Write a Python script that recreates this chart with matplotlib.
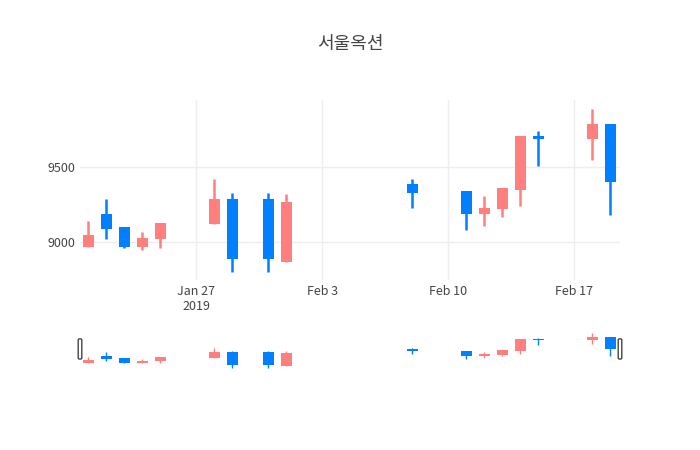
import matplotlib.pyplot as plt
import matplotlib.dates as mdates
from matplotlib.patches import FancyBboxPatch
import numpy as np
import pandas as pd

plt.rcParams['font.family'] = ['Noto Sans CJK KR', 'DejaVu Sans']

dates = pd.to_datetime([
    "2019-01-21", "2019-01-22", "2019-01-23", "2019-01-24", "2019-01-25",
    "2019-01-28", "2019-01-29", "2019-01-31", "2019-02-01", "2019-02-08",
    "2019-02-11", "2019-02-12", "2019-02-13", "2019-02-14", "2019-02-15",
    "2019-02-18", "2019-02-19",
])
opens = [8970, 9190, 9100, 8970, 9020, 9120, 9290, 9290, 8870, 9390,
         9340, 9190, 9220, 9350, 9710, 9690, 9790]
highs = [9140, 9290, 9100, 9070, 9130, 9420, 9330, 9330, 9320, 9420,
         9340, 9310, 9360, 9710, 9740, 9890, 9790]
lows = [8970, 9020, 8960, 8950, 8960, 9120, 8800, 8800, 8870, 9230,
        9080, 9110, 9170, 9240, 9510, 9550, 9180]
closes = [9050, 9090, 8970, 9030, 9130, 9290, 8890, 8890, 9270, 9330,
          9190, 9230, 9360, 9710, 9690, 9790, 9400]

up_color = "#FF7F7F"
down_color = "#007FFF"

x = mdates.date2num(dates)
o = np.array(opens)
c = np.array(closes)
colors = [up_color if ci >= oi else down_color for oi, ci in zip(o, c)]
bottoms = np.minimum(o, c)
heights = np.abs(c - o)

xmin = x[0] - 0.45
xmax = x[-1] + 0.55

fig = plt.figure(figsize=(7, 4.5), dpi=100)
ax = fig.add_axes([80 / 700, 1 - 280 / 450, 540 / 700, 180 / 450])
sl = fig.add_axes([80 / 700, 1 - 372 / 450, 540 / 700, 42 / 450])


def draw_candles(a, lw):
    a.vlines(x, lows, highs, colors=colors, linewidth=lw, zorder=2)
    a.bar(x, np.maximum(heights, 1), bottom=bottoms, width=0.6,
          color=colors, zorder=3)


draw_candles(ax, 1.8)
ax.set_xlim(xmin, xmax)
ax.set_ylim(8747, 9947)
ax.set_yticks([9000, 9500])
ax.grid(True, color="#EEEEEE", linewidth=1, zorder=0)
ax.set_axisbelow(True)
for s in ax.spines.values():
    s.set_visible(False)
ax.tick_params(length=0, labelsize=9, colors="#444444")
ticks = mdates.date2num(pd.to_datetime(["2019-01-27", "2019-02-03", "2019-02-10", "2019-02-17"]))
ax.set_xticks(ticks)
ax.set_xticklabels(["Jan 27\n2019", "Feb 3", "Feb 10", "Feb 17"])

draw_candles(sl, 1.0)
sl.set_xlim(xmin, xmax)
# slider: 8798 at ~368 px, 9889 at ~333 px
sl.set_ylim(8670, 10000)
sl.set_xticks([])
sl.set_yticks([])
for s in sl.spines.values():
    s.set_visible(False)
for hx in (xmin, xmax):
    h = FancyBboxPatch((hx - 0.1, 9080), 0.2, 640, boxstyle="round,pad=0,rounding_size=0.08",
                       facecolor="white", edgecolor="#444444", linewidth=1,
                       transform=sl.transData, clip_on=False, zorder=5,
                       mutation_aspect=500)
    sl.add_patch(h)

fig.text(0.5, 1 - 44 / 450, "서울옥션", ha="center", va="center",
         fontsize=13, color="#444444")

fig.savefig("out.png", dpi=100)
